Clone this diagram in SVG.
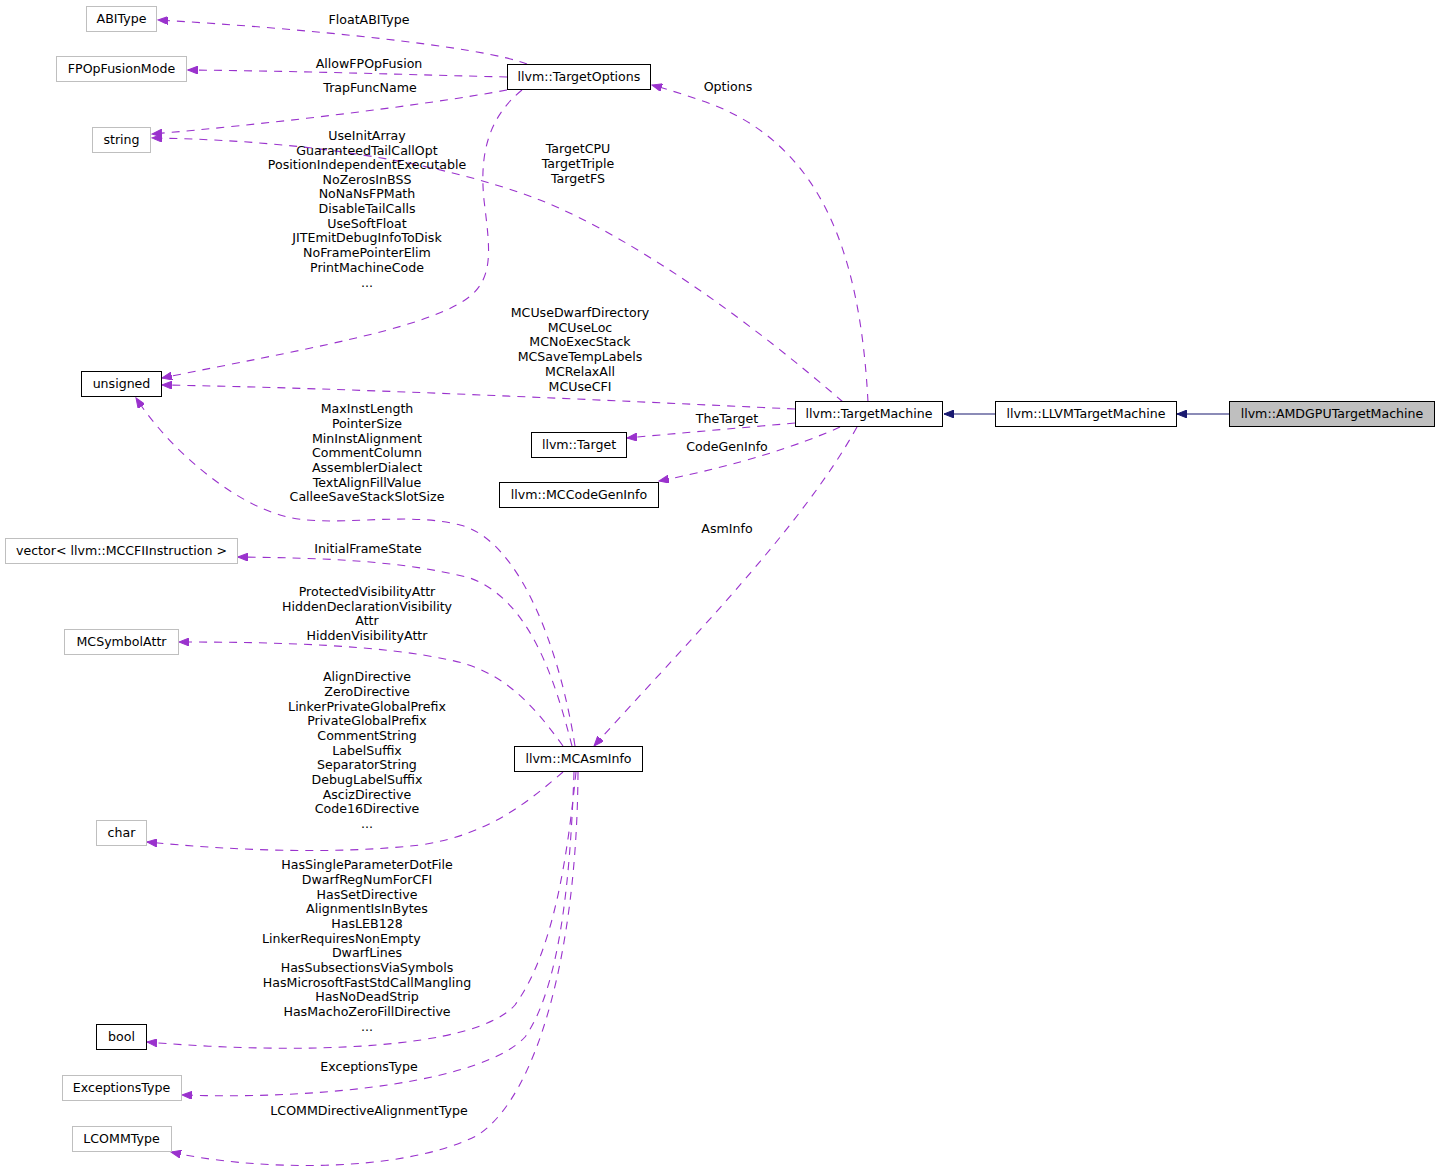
<svg xmlns="http://www.w3.org/2000/svg" width="1440" height="1174" viewBox="0 0 1440 1174">
<defs>
<style>
text{font-family:"DejaVu Sans","Liberation Sans",sans-serif;font-size:12.6px;fill:#000;text-anchor:middle}
.n rect{fill:#fff;stroke:#000;stroke-width:1}
.g rect{fill:#fff;stroke:#bfbfbf;stroke-width:1}
.e{fill:none;stroke:#9a32cd;stroke-width:1.1;stroke-dasharray:8,7}
.h{fill:none;stroke:#191970;stroke-width:1.1}
</style>
<marker id="ap" markerUnits="userSpaceOnUse" markerWidth="11" markerHeight="8" refX="10" refY="4" orient="auto"><path d="M0,0 L10,4 L0,8 z" fill="#9a32cd" stroke="#9a32cd"/></marker>
<marker id="an" markerUnits="userSpaceOnUse" markerWidth="11" markerHeight="8" refX="10" refY="4" orient="auto"><path d="M0,0 L10,4 L0,8 z" fill="#191970" stroke="#191970"/></marker>
</defs>
<rect width="1440" height="1174" fill="#fff"/>
<g id="connectors">
<path class="e" marker-end="url(#ap)" d="M527,64 C480,46 300,28 158,20"/>
<path class="e" marker-end="url(#ap)" d="M507,77 C420,75 300,71 188,70"/>
<path class="e" marker-end="url(#ap)" d="M507,90 C420,106 260,125 152,134"/>
<path class="e" marker-end="url(#ap)" d="M843,402 C760,330 640,240 540,200 C430,158 290,140 152,138"/>
<path class="e" marker-end="url(#ap)" d="M868,402 C860,250 820,140 700,100 C685,95 670,90 652,85"/>
<path class="e" marker-end="url(#ap)" d="M522,90 C485,120 480,160 484,200 C490,250 495,280 465,300 C420,330 300,350 162,378"/>
<path class="e" marker-end="url(#ap)" d="M795,409 C600,400 350,388 162,385"/>
<path class="e" marker-end="url(#ap)" d="M795,423 C740,428 680,433 627,438"/>
<path class="e" marker-end="url(#ap)" d="M840,427 C800,445 740,465 659,481"/>
<path class="e" marker-end="url(#ap)" d="M857,427 C800,530 680,650 594,746"/>
<path class="e" marker-end="url(#ap)" d="M575,746 C560,650 520,540 460,525 C400,510 330,530 280,515 C230,500 170,450 136,398"/>
<path class="e" marker-end="url(#ap)" d="M572,746 C555,680 530,600 470,578 C400,560 320,558 238,557"/>
<path class="e" marker-end="url(#ap)" d="M563,746 C530,700 500,670 450,660 C380,645 280,642 179,642"/>
<path class="e" marker-end="url(#ap)" d="M563,772 C530,800 490,835 420,845 C330,855 230,850 147,842"/>
<path class="e" marker-end="url(#ap)" d="M576,772 C568,850 555,950 515,1005 C475,1050 300,1055 147,1042"/>
<path class="e" marker-end="url(#ap)" d="M574,772 C570,890 558,990 525,1037 C485,1080 330,1100 182,1095"/>
<path class="e" marker-end="url(#ap)" d="M578,772 C577,950 538,1095 478,1135 C400,1175 250,1170 171,1152"/>
<path class="h" marker-end="url(#an)" d="M995,414 L944,414"/>
<path class="h" marker-end="url(#an)" d="M1229,414 L1177,414"/>
</g>
<g id="edge-labels">
<text x="369" y="24">FloatABIType</text>
<text x="369" y="68">AllowFPOpFusion</text>
<text x="370" y="92">TrapFuncName</text>
<text x="367" y="140">UseInitArray</text>
<text x="367" y="155">GuaranteedTailCallOpt</text>
<text x="367" y="169">PositionIndependentExecutable</text>
<text x="367" y="184">NoZerosInBSS</text>
<text x="367" y="198">NoNaNsFPMath</text>
<text x="367" y="213">DisableTailCalls</text>
<text x="367" y="228">UseSoftFloat</text>
<text x="367" y="242">JITEmitDebugInfoToDisk</text>
<text x="367" y="257">NoFramePointerElim</text>
<text x="367" y="272">PrintMachineCode</text>
<text x="367" y="287">...</text>
<text x="578" y="153">TargetCPU</text>
<text x="578" y="168">TargetTriple</text>
<text x="578" y="183">TargetFS</text>
<text x="728" y="91">Options</text>
<text x="580" y="317">MCUseDwarfDirectory</text>
<text x="580" y="332">MCUseLoc</text>
<text x="580" y="346">MCNoExecStack</text>
<text x="580" y="361">MCSaveTempLabels</text>
<text x="580" y="376">MCRelaxAll</text>
<text x="580" y="391">MCUseCFI</text>
<text x="727" y="423">TheTarget</text>
<text x="727" y="451">CodeGenInfo</text>
<text x="727" y="533">AsmInfo</text>
<text x="367" y="413">MaxInstLength</text>
<text x="367" y="428">PointerSize</text>
<text x="367" y="443">MinInstAlignment</text>
<text x="367" y="457">CommentColumn</text>
<text x="367" y="472">AssemblerDialect</text>
<text x="367" y="487">TextAlignFillValue</text>
<text x="367" y="501">CalleeSaveStackSlotSize</text>
<text x="368" y="553">InitialFrameState</text>
<text x="367" y="596">ProtectedVisibilityAttr</text>
<text x="367" y="611">HiddenDeclarationVisibility</text>
<text x="367" y="625">Attr</text>
<text x="367" y="640">HiddenVisibilityAttr</text>
<text x="367" y="681">AlignDirective</text>
<text x="367" y="696">ZeroDirective</text>
<text x="367" y="711">LinkerPrivateGlobalPrefix</text>
<text x="367" y="725">PrivateGlobalPrefix</text>
<text x="367" y="740">CommentString</text>
<text x="367" y="755">LabelSuffix</text>
<text x="367" y="769">SeparatorString</text>
<text x="367" y="784">DebugLabelSuffix</text>
<text x="367" y="799">AscizDirective</text>
<text x="367" y="813">Code16Directive</text>
<text x="367" y="828">...</text>
<text x="367" y="869">HasSingleParameterDotFile</text>
<text x="367" y="884">DwarfRegNumForCFI</text>
<text x="367" y="899">HasSetDirective</text>
<text x="367" y="913">AlignmentIsInBytes</text>
<text x="367" y="928">HasLEB128</text>
<text x="262" y="943" style="text-anchor:start">LinkerRequiresNonEmpty</text>
<text x="367" y="957">DwarfLines</text>
<text x="367" y="972">HasSubsectionsViaSymbols</text>
<text x="367" y="987">HasMicrosoftFastStdCallMangling</text>
<text x="367" y="1001">HasNoDeadStrip</text>
<text x="367" y="1016">HasMachoZeroFillDirective</text>
<text x="367" y="1031">...</text>
<text x="369" y="1071">ExceptionsType</text>
<text x="369" y="1115">LCOMMDirectiveAlignmentType</text>
</g>
<g id="ABIType" class="g"><rect x="86.5" y="6.5" width="70" height="25"/><text x="121.5" y="23">ABIType</text></g>
<g id="FPOpFusionMode" class="g"><rect x="56.5" y="56.5" width="130" height="25"/><text x="121.5" y="73">FPOpFusionMode</text></g>
<g id="string" class="g"><rect x="92.5" y="127.5" width="58" height="25"/><text x="121.5" y="144">string</text></g>
<g id="TargetOptions" class="n"><rect x="507.5" y="64.5" width="143" height="25"/><text x="579" y="81">llvm::TargetOptions</text></g>
<g id="unsigned" class="n"><rect x="81.5" y="371.5" width="80" height="25"/><text x="121.5" y="388">unsigned</text></g>
<g id="TargetMachine" class="n"><rect x="795.5" y="401.5" width="147" height="25"/><text x="869" y="418">llvm::TargetMachine</text></g>
<g id="LLVMTargetMachine" class="n"><rect x="995.5" y="401.5" width="181" height="25"/><text x="1086" y="418">llvm::LLVMTargetMachine</text></g>
<g id="AMDGPUTargetMachine"><rect x="1229.5" y="401.5" width="205" height="25" fill="#bfbfbf" stroke="#000"/><text x="1332" y="418">llvm::AMDGPUTargetMachine</text></g>
<g id="Target" class="n"><rect x="531.5" y="432.5" width="95" height="25"/><text x="579" y="449">llvm::Target</text></g>
<g id="MCCodeGenInfo" class="n"><rect x="499.5" y="482.5" width="159" height="25"/><text x="579" y="499">llvm::MCCodeGenInfo</text></g>
<g id="vector" class="g"><rect x="5.5" y="538.5" width="232" height="25"/><text x="121.5" y="555">vector&lt; llvm::MCCFIInstruction &gt;</text></g>
<g id="MCSymbolAttr" class="g"><rect x="64.5" y="629.5" width="114" height="25"/><text x="121.5" y="646">MCSymbolAttr</text></g>
<g id="MCAsmInfo" class="n"><rect x="514.5" y="746.5" width="128" height="25"/><text x="578.5" y="763">llvm::MCAsmInfo</text></g>
<g id="char" class="g"><rect x="96.5" y="820.5" width="50" height="25"/><text x="121.5" y="837">char</text></g>
<g id="bool" class="n"><rect x="96.5" y="1024.5" width="50" height="25"/><text x="121.5" y="1041">bool</text></g>
<g id="ExceptionsType" class="g"><rect x="62.5" y="1075.5" width="119" height="25"/><text x="121.5" y="1092">ExceptionsType</text></g>
<g id="LCOMMType" class="g"><rect x="72.5" y="1126.5" width="99" height="25"/><text x="121.5" y="1143">LCOMMType</text></g>
</svg>
